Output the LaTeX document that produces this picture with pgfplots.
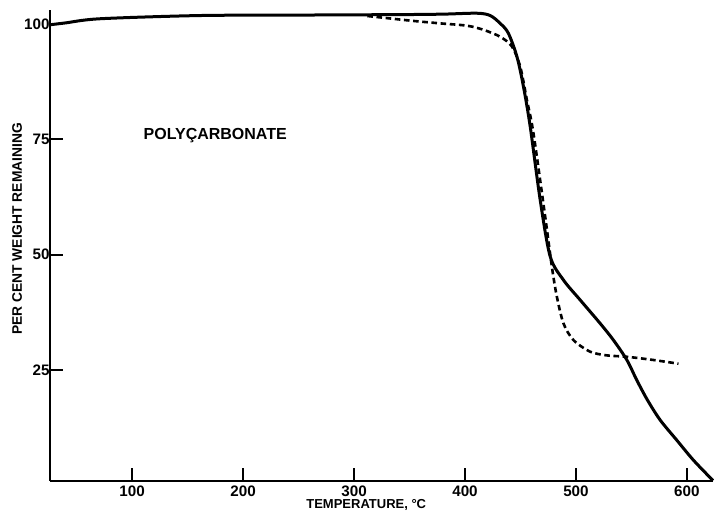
\documentclass[border=0pt]{standalone}
\usepackage{pgfplots}
\pgfplotsset{compat=1.18}
\usepackage{fontspec}
\setmainfont{Liberation Sans}
\begin{document}
\begin{tikzpicture}
\path[use as bounding box] (-25pt,-15.5pt) rectangle (332pt,240.5pt);
\begin{axis}[
  at={(0,0)}, anchor=south west,
  scale only axis, width=331.5pt, height=235.5pt,
  xmin=26, xmax=623.5, ymin=1, ymax=103,
  axis x line=bottom, axis y line=left,
  axis line style={-, line width=1pt},
  xtick={100,200,300,400,500,600},
  ytick={25,50,75,100},
  tick align=inside, major tick length=6.5pt,
  tick style={line width=1pt, black},
  minor tick num=0,
  /pgf/number format/assume math mode=true,
  ticklabel style={font=\bfseries\fontsize{7.6}{9}\selectfont},
  xticklabel style={inner sep=1pt, yshift=-1pt},
  yticklabel style={inner sep=1pt, xshift=1pt},
  clip=false,
]
\addplot[black, line width=1.5pt, smooth, tension=0.5] coordinates {
(26,99.8) (40,100.2) (71,101.1) (161,101.8) (251,101.9) (341,102.0) (380,102.1)
(410.7,102.3) (422.7,101.8) (431.7,100.1) (439,98) (446.8,92.9) (452.7,86.4)
(458.8,77.7) (467.8,61.8) (476.8,49.6) (488.8,44.5) (503.8,40.2) (521.9,35.1)
(533.8,31.5) (545.9,27.2) (554.9,22.8) (564.5,18.5) (575.9,14.2) (591,9.8)
(605.9,5.5) (623.5,1.1)
};
\addplot[black, line width=1.3pt, dash pattern=on 2.8pt off 1.8pt, smooth, tension=0.5] coordinates {
(312,101.7) (350.6,100.7) (377.7,100.1) (401.7,99.6) (416.7,98.7) (431.7,97.2)
(442.3,95.1) (449.8,90.7) (455.8,83.5) (461.7,76.3) (472.3,58.2) (478.3,47.4)
(482.8,40.9) (488.8,35.1) (497.8,31.5) (512.8,29) (527.9,28.2) (545.9,27.9)
(569.9,27.2) (592.4,26.4)
};
\node[font=\bfseries\fontsize{8}{9}\selectfont] at (axis cs:174.9,75.7) {POLYÇARBONATE};
\node[font=\bfseries\fontsize{6.9}{8}\selectfont, rotate=90] at (axis cs:-3.7,55.6) {PER CENT WEIGHT REMAINING};
\node[font=\bfseries\fontsize{6.5}{8}\selectfont] at (axis cs:311,-4.2) {TEMPERATURE, °C};
\end{axis}
\end{tikzpicture}
\end{document}
